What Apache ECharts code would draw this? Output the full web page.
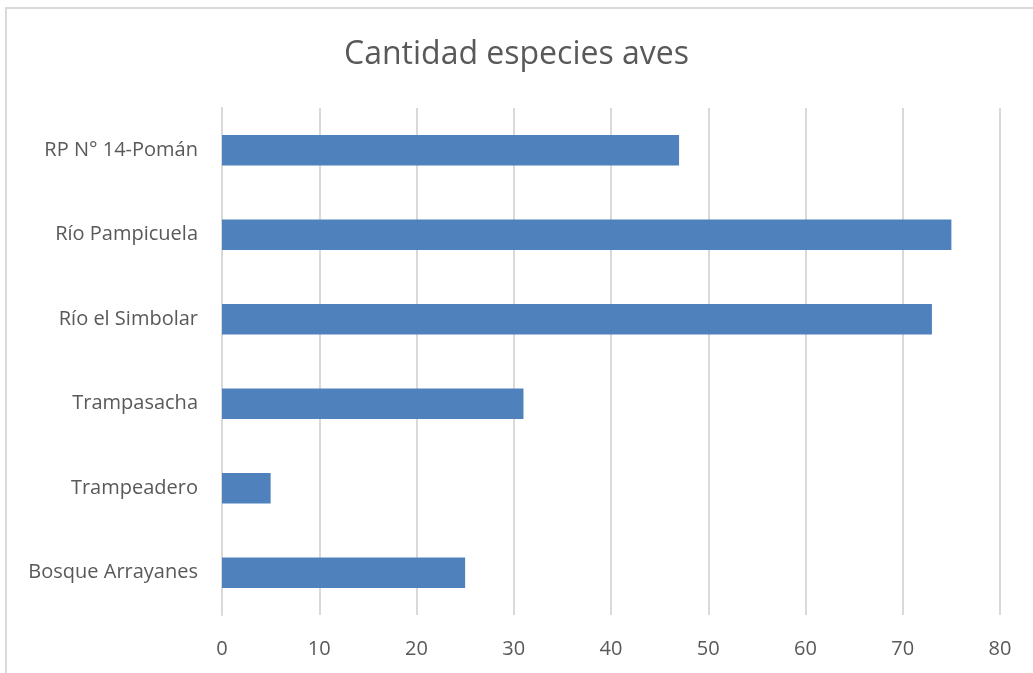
<!DOCTYPE html>
<html><head><meta charset="utf-8">
<script src="https://cdn.jsdelivr.net/npm/echarts@6/dist/echarts.min.js"></script>
<style>
html,body{margin:0;padding:0;background:#fff;}
#frame{position:absolute;left:5px;top:7px;width:1100px;height:700px;border:2px solid #d9d9d9;box-sizing:border-box;}
#c{position:absolute;left:0;top:0;width:1033px;height:673px;}
</style></head>
<body>
<div id="frame"></div>
<div id="c"></div>
<script>
const categories = ["RP N° 14-Pomán","Río Pampicuela","Río el Simbolar","Trampasacha","Trampeadero","Bosque Arrayanes"];
const values = [47, 75, 73, 31, 5, 25];
const xTicks = {min: 0, max: 80, interval: 10};
const titleText = "Cantidad especies aves";

const chart = echarts.init(document.getElementById('c'), null, {renderer:'canvas'});
const font = '"Open Sans", "Noto Sans", sans-serif';
chart.setOption({
  backgroundColor: 'transparent',
  animation: false,
  title: {text: titleText, left: 'center', top: 34,
    textStyle: {fontFamily: font, fontSize: 32, fontWeight: 'normal', color: '#595959'}},
  grid: {left: 222, right: 33, top: 108, bottom: 58, containLabel: false},
  xAxis: {type: 'value', min: xTicks.min, max: xTicks.max, interval: xTicks.interval,
    axisLine: {show: false}, axisTick: {show: false},
    splitLine: {lineStyle: {color: '#d9d9d9', width: 2}},
    axisLabel: {color: '#595959', fontSize: 20, fontFamily: font, margin: 24}},
  yAxis: {type: 'category', data: categories, inverse: true,
    axisLine: {show: true, lineStyle: {color: '#d9d9d9', width: 2}}, axisTick: {show: false},
    axisLabel: {color: '#595959', fontSize: 20, fontFamily: font, margin: 24}},
  series: [{type: 'bar', data: values, barCategoryGap: '64%',
    itemStyle: {color: '#4F81BD'}}]
});
</script>
</body></html>
